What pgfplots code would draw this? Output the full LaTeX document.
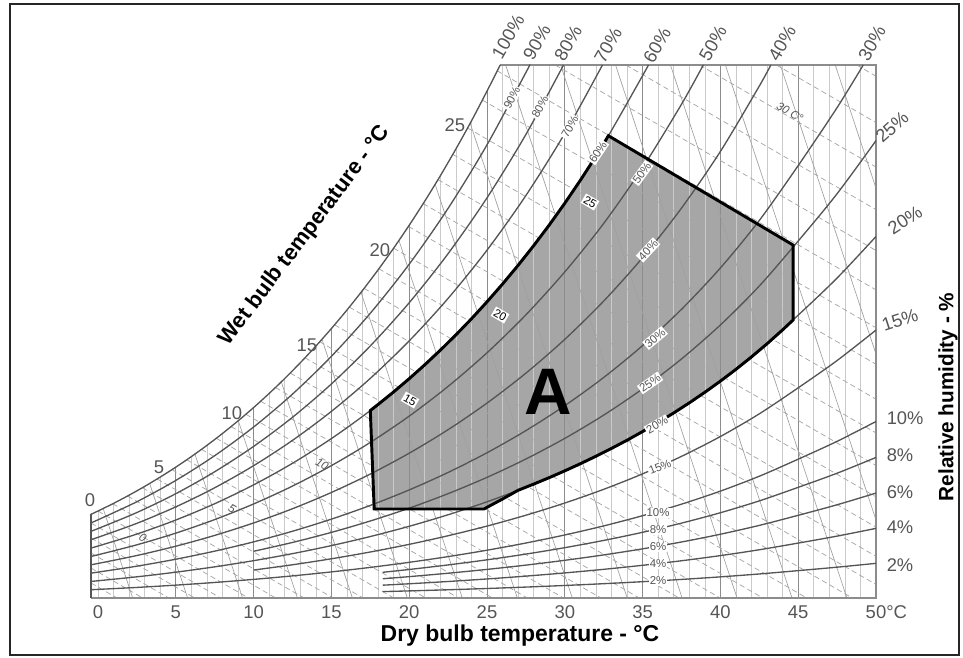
\documentclass[border=0pt]{standalone}
\usepackage{fontspec}
\setmainfont{Liberation Sans}
\usepackage{pgfplots}
\pgfplotsset{compat=1.18}
\definecolor{rhc}{HTML}{555555}
\definecolor{gridl}{HTML}{CACACA}
\definecolor{gridd}{HTML}{8C8C8C}
\definecolor{wbc}{HTML}{A6A6A6}
\definecolor{vc}{HTML}{A0A0A0}
\definecolor{zone}{HTML}{A6A6A6}
\definecolor{lab}{HTML}{555555}
\newcommand{\fs}[1]{\fontsize{#1}{#1}\selectfont}
\begin{document}
\begin{tikzpicture}
\begin{axis}[
  scale only axis, width=588.75bp, height=399.75bp,
  xmin=-0.45, xmax=50, ymin=0, ymax=533,
  axis line style={draw=none}, tick style={draw=none},
  ytick=\empty, xtick={0,5,...,50},
  xticklabels={0,5,10,15,20,25,30,35,40,45,{50\rlap{°C}}},
  xticklabel style={font=\fs{13.9}, text=lab, yshift=-2.2bp},
  clip=false,
]
% zone A fill
\addplot[draw=none, fill=zone] coordinates {(17.75,89)(24.8,89)(26,99)(27,107.73)(28,113.9)(29,120.37)(30,127.17)(31,134.29)(32,141.73)(33,149.58)(34,157.79)(35,166.45)(36,175.52)(37,185.08)(38,195.13)(39,205.72)(40,216.87)(41,228.66)(42,241.13)(43,254.27)(44,268.17)(44.67,277.97)(44.67,353)(32.8,462.27)(32.5,454.37)(32,441.78)(31,417.72)(30,394.8)(29,373.0)(28,352.34)(27,332.70)(26,313.98)(25,296.18)(24,279.19)(23,263.13)(22,247.80)(21,233.21)(20,219.31)(19,206.10)(18,193.53)(17.5,187.48)} -- cycle;
% light vertical dry-bulb lines
\addplot[gridl, line width=0.45bp, unbounded coords=jump] coordinates {
(0,0)(0,86.99)(0,nan)(1,0)(1,94.64)(1,nan)(2,0)(2,102.85)(2,nan)(3,0)(3,111.61)(3,nan)(4,0)(4,120.95)(4,nan)
(6,0)(6,141.42)(6,nan)(7,0)(7,152.62)(7,nan)(8,0)(8,164.51)(8,nan)(9,0)(9,177.11)(9,nan)
(11,0)(11,204.57)(11,nan)(12,0)(12,219.48)(12,nan)(13,0)(13,235.25)(13,nan)(14,0)(14,251.89)(14,nan)
(16,0)(16,288.0)(16,nan)(17,0)(17,307.56)(17,nan)(18,0)(18,328.16)(18,nan)(19,0)(19,349.86)(19,nan)
(21,0)(21,396.85)(21,nan)(22,0)(22,422.23)(22,nan)(23,0)(23,449.0)(23,nan)(24,0)(24,477.07)(24,nan)
(26,0)(26,533)(26,nan)(27,0)(27,533)(27,nan)(28,0)(28,533)(28,nan)(29,0)(29,533)(29,nan)
(31,0)(31,533)(31,nan)(32,0)(32,533)(32,nan)(33,0)(33,533)(33,nan)(34,0)(34,533)(34,nan)
(36,0)(36,533)(36,nan)(37,0)(37,533)(37,nan)(38,0)(38,533)(38,nan)(39,0)(39,533)(39,nan)
(41,0)(41,533)(41,nan)(42,0)(42,533)(42,nan)(43,0)(43,533)(43,nan)(44,0)(44,533)(44,nan)
(46,0)(46,533)(46,nan)(47,0)(47,533)(47,nan)(48,0)(48,533)(48,nan)(49,0)(49,533)};
% darker 5-degree lines
\addplot[gridd, line width=0.7bp, unbounded coords=jump] coordinates {
(5,0)(5,130.86)(5,nan)(10,0)(10,190.43)(10,nan)(15,0)(15,269.49)(15,nan)(20,0)(20,372.74)(20,nan)
(25,0)(25,506.89)(25,nan)(30,0)(30,533)(30,nan)(35,0)(35,533)(35,nan)(40,0)(40,533)(40,nan)(45,0)(45,533)};
% wet bulb dashed lines
\addplot[wbc, line width=0.55bp, dash pattern=on 4bp off 2.5bp, unbounded coords=jump] coordinates {
(-0.45,15)(1.22,0)(0,nan)(-0.45,30)(2.88,0)(0,nan)(-0.45,45)(4.55,0)(0,nan)(-0.45,60)(6.22,0)(0,nan)(-0.45,75)(7.88,0)(0,nan)
(0,86.99)(9.67,0)(0,nan)(0.95,94.26)(11.42,0)(0,nan)(1.9,102.03)(13.24,0)(0,nan)(2.85,110.30)(15.11,0)(0,nan)
(3.8,119.08)(17.03,0)(0,nan)(4.75,128.38)(19.01,0)(0,nan)(5.7,138.25)(21.06,0)(0,nan)(6.65,148.70)(23.17,0)(0,nan)
(7.6,159.75)(25.35,0)(0,nan)(8.55,171.44)(27.60,0)(0,nan)(9.5,183.77)(29.92,0)(0,nan)(10.45,196.79)(32.32,0)(0,nan)
(11.4,210.53)(34.79,0)(0,nan)(12.35,225.0)(37.35,0)(0,nan)(13.3,240.24)(39.99,0)(0,nan)(14.25,256.29)(42.73,0)(0,nan)
(15.2,273.19)(45.55,0)(0,nan)(16.15,290.93)(48.48,0)(0,nan)(17.1,309.62)(50,13.52)(0,nan)(18.05,329.25)(50,41.70)(0,nan)
(19.0,349.86)(50,70.86)(0,nan)(19.95,371.60)(50,101.15)(0,nan)(20.9,394.44)(50,132.54)(0,nan)(21.85,418.42)(50,165.07)(0,nan)
(22.8,443.65)(50,198.85)(0,nan)(23.75,470.05)(50,233.8)(0,nan)(24.7,497.94)(50,270.24)(0,nan)(25.65,527.24)(50,308.09)(0,nan)
(29.38,533)(50,347.46)(0,nan)(33.93,533)(50,388.38)(0,nan)(38.66,533)(50,430.96)(0,nan)(43.6,533)(50,475.42)(0,nan)(48.76,533)(50,521.8)};
% steep specific volume lines
\addplot[vc, line width=0.5bp, unbounded coords=jump] coordinates {
(2.23,0)(0.33,89.5)(0,nan)(5.76,0)(3.32,114.6)(0,nan)(9.29,0)(6.22,144.3)(0,nan)(12.82,0)(9.01,177.5)(0,nan)
(16.35,0)(11.78,216.2)(0,nan)(19.88,0)(14.39,258.9)(0,nan)(23.41,0)(16.9,305.8)(0,nan)(26.95,0)(19.34,357.6)(0,nan)
(30.48,0)(21.66,414)(0,nan)(34.01,0)(23.92,474.8)(0,nan)(37.54,0)(26.2,533)(0,nan)(41.07,0)(29.73,533)(0,nan)
(44.6,0)(33.26,533)(0,nan)(48.13,0)(36.79,533)(0,nan)(50,78)(40.32,533)(0,nan)(50,243.9)(43.85,533)(0,nan)(50,409.8)(47.38,533)};
% frame of the chart
\addplot[gridd, line width=0.8bp] coordinates {(-0.45,0)(50,0)(50,533)(25.85,533)};
\addplot[rhc, line width=0.9bp] coordinates {(-0.45,0)(-0.45,83.67)};
% relative humidity curves
\addplot[rhc, line width=1bp, smooth] coordinates {(-0.45,83.67)(0,86.99)(1,94.64)(2,102.85)(3,111.61)(4,120.95)(5,130.86)(6,141.42)(7,152.62)(8,164.51)(9,177.11)(10,190.43)(11,204.57)(12,219.48)(13,235.25)(14,251.89)(15,269.49)(16,288.0)(17,307.56)(18,328.16)(19,349.86)(20,372.74)(21,396.85)(22,422.23)(23,449.0)(24,477.07)(25,506.89)(25.85,533)};
\addplot[rhc, line width=1bp, smooth] coordinates {(-0.45,75.22)(0,78.20)(2.5,96.30)(5,117.57)(7.5,142.33)(10,170.97)(12.5,203.90)(15,241.68)(17.5,284.76)(20,333.81)(22.5,389.65)(25,453.16)(27.5,525.5)(27.75,533)};
\addplot[rhc, line width=1bp, smooth] coordinates {(-0.45,66.79)(0,69.43)(2.5,85.49)(5,104.32)(7.5,126.26)(10,151.58)(12.5,180.70)(15,214.06)(17.5,252.07)(20,295.27)(22.5,344.38)(25,400.14)(27.5,463.53)(29.92,533)};
\addplot[rhc, line width=1bp, smooth] coordinates {(-0.45,58.38)(0,60.68)(2.5,74.69)(5,91.13)(7.5,110.24)(10,132.31)(12.5,157.64)(15,186.64)(17.5,219.64)(20,257.11)(22.5,299.63)(25,347.82)(27.5,402.50)(30,464.65)(32.42,533)};
\addplot[rhc, line width=1bp, smooth] coordinates {(-0.45,49.98)(0,51.96)(2.5,63.94)(5,77.98)(7.5,94.29)(10,113.12)(12.5,134.72)(15,159.42)(17.5,187.48)(20,219.31)(22.5,255.37)(25,296.18)(27.5,342.39)(30,394.80)(32.5,454.37)(35,522.38)(35.37,533)};
\addplot[rhc, line width=1bp, smooth] coordinates {(-0.45,41.61)(0,43.25)(2.5,53.20)(5,64.87)(7.5,78.42)(10,94.04)(12.5,111.94)(15,132.38)(17.5,155.59)(20,181.88)(22.5,211.62)(25,245.21)(27.5,283.19)(30,326.16)(32.5,374.60)(35,430.36)(37.5,493.75)(38.9,533)};
\addplot[rhc, line width=1bp, smooth] coordinates {(-0.45,33.25)(0,34.56)(2.5,42.50)(5,51.80)(7.5,62.60)(10,75.04)(12.5,89.28)(15,105.53)(17.5,123.96)(20,144.80)(22.5,168.35)(25,194.91)(27.5,224.86)(30,258.69)(32.5,296.96)(35,340.41)(37.5,389.91)(40,446.58)(42.5,511.95)(43.24,533)};
\addplot[rhc, line width=1bp, smooth] coordinates {(-0.45,24.91)(0,25.89)(2.5,31.83)(5,38.79)(7.5,46.86)(10,56.14)(12.5,66.77)(15,78.88)(17.5,92.59)(20,108.09)(22.5,125.56)(25,145.24)(27.5,167.40)(30,192.37)(32.5,220.55)(35,252.46)(37.5,288.70)(40,330.06)(42.5,377.56)(45,432.45)(47.5,490.41)(49.18,533)};
\addplot[rhc, line width=1bp, smooth] coordinates {(10,46.73)(12.5,55.56)(15,65.62)(17.5,77.01)(20,89.86)(22.5,104.35)(25,120.65)(27.5,138.99)(30,159.63)(32.5,182.91)(35,209.22)(37.5,239.07)(40,273.06)(42.5,312.03)(45,357.0)(47.5,404.30)(50,457.38)};
\addplot[rhc, line width=1bp, smooth] coordinates {(-0.45,16.59)(0,17.24)(2.5,21.19)(5,25.82)(7.5,31.17)(10,37.33)(12.5,44.38)(15,52.40)(17.5,61.48)(20,71.71)(22.5,83.25)(25,96.21)(27.5,110.78)(30,127.17)(32.5,145.62)(35,166.45)(37.5,190.05)(40,216.87)(42.5,247.58)(45,282.90)(47.5,320.01)(50,361.52)};
\addplot[rhc, line width=1bp, smooth] coordinates {(10,27.96)(12.5,33.24)(15,39.23)(17.5,46.02)(20,53.66)(22.5,62.27)(25,71.93)(27.5,82.79)(30,94.98)(32.5,108.69)(35,124.16)(37.5,141.65)(40,161.50)(42.5,184.18)(45,210.20)(47.5,237.49)(50,267.93)};
\addplot[rhc, line width=1bp, smooth] coordinates {(-0.45,8.29)(0,8.61)(2.5,10.58)(5,12.88)(7.5,15.55)(10,18.63)(12.5,22.12)(15,26.11)(17.5,30.61)(20,35.69)(22.5,41.40)(25,47.80)(27.5,54.99)(30,63.05)(32.5,72.11)(35,82.32)(37.5,93.84)(40,106.90)(42.5,121.78)(45,138.84)(47.5,156.68)(50,176.52)};
\addplot[rhc, line width=1bp, smooth] coordinates {(18.3,25.71)(20,28.53)(22.5,33.08)(25,38.19)(27.5,43.92)(30,50.35)(32.5,57.57)(35,65.71)(37.5,74.88)(40,85.28)(42.5,97.12)(45,110.67)(47.5,124.81)(50,140.57)};
\addplot[rhc, line width=1bp, smooth] coordinates {(18.3,19.26)(20,21.37)(22.5,24.78)(25,28.61)(27.5,32.89)(30,37.71)(32.5,43.10)(35,49.17)(37.5,56.02)(40,63.78)(42.5,72.61)(45,82.70)(47.5,93.24)(50,104.94)};
\addplot[rhc, line width=1bp, smooth] coordinates {(18.3,12.83)(20,14.24)(22.5,16.51)(25,19.05)(27.5,21.90)(30,25.09)(32.5,28.68)(35,32.71)(37.5,37.26)(40,42.40)(42.5,48.25)(45,54.93)(47.5,61.90)(50,69.64)};
\addplot[rhc, line width=1bp, smooth] coordinates {(18.3,6.41)(20,7.11)(22.5,8.24)(25,9.51)(27.5,10.94)(30,12.53)(32.5,14.32)(35,16.33)(37.5,18.59)(40,21.14)(42.5,24.05)(45,27.37)(47.5,30.83)(50,34.66)};
% zone A border
\addplot[black, line width=2.2bp, line join=miter] coordinates {(17.75,89)(24.8,89)(26,99)(27,107.73)(28,113.9)(29,120.37)(30,127.17)(31,134.29)(32,141.73)(33,149.58)(34,157.79)(35,166.45)(36,175.52)(37,185.08)(38,195.13)(39,205.72)(40,216.87)(41,228.66)(42,241.13)(43,254.27)(44,268.17)(44.67,277.97)(44.67,353)(32.8,462.27)(32.5,454.37)(32,441.78)(31,417.72)(30,394.8)(29,373.0)(28,352.34)(27,332.70)(26,313.98)(25,296.18)(24,279.19)(23,263.13)(22,247.80)(21,233.21)(20,219.31)(19,206.10)(18,193.53)(17.5,187.48)} -- cycle;
\node[font=\bfseries\fs{49.5}] at (axis cs:28.92,206) {A};
% labels on curves
\tikzset{bx/.style={fill=white, inner sep=0.8bp, text=lab, font=\fs{8.6}}}
\node[bx, rotate=62] at (axis cs:26.6,500) {90\%};
\node[bx, rotate=62] at (axis cs:28.41,491) {80\%};
\node[bx, rotate=60] at (axis cs:30.33,471) {70\%};
\node[bx, rotate=56] at (axis cs:32.13,446) {60\%};
\node[bx, rotate=54] at (axis cs:34.96,425) {50\%};
\node[bx, rotate=47] at (axis cs:35.35,348) {40\%};
\node[bx, rotate=40] at (axis cs:35.8,260) {30\%};
\node[bx, rotate=35] at (axis cs:35.48,215) {25\%};
\node[bx, rotate=30] at (axis cs:35.93,173) {20\%};
\node[bx, rotate=22] at (axis cs:36.12,131) {15\%};
\node[bx] at (axis cs:35.99,85) {10\%};
\node[bx] at (axis cs:35.99,68) {8\%};
\node[bx] at (axis cs:35.99,51) {6\%};
\node[bx] at (axis cs:35.99,34) {4\%};
\node[bx] at (axis cs:35.99,17) {2\%};
% wet bulb line labels inside
\node[text=lab, font=\itshape\fs{8.6}, rotate=-30] at (axis cs:2.89,60) {0};
\node[text=lab, font=\itshape\fs{8.6}, rotate=-30] at (axis cs:8.61,89) {5};
\node[text=lab, font=\itshape\fs{8.6}, rotate=-30] at (axis cs:14.4,134) {10};
\node[fill=white, inner sep=1bp, font=\fs{8.6}, rotate=-30] at (axis cs:20.05,198) {15};
\node[fill=white, inner sep=1bp, font=\fs{8.6}, rotate=-30] at (axis cs:25.84,283) {20};
\node[fill=white, inner sep=1bp, font=\fs{8.6}, rotate=-30] at (axis cs:31.62,396) {25};
\node[text=lab, font=\itshape\fs{8.6}, rotate=-30] at (axis cs:44.47,486) {30 C°};
% wet bulb labels at saturation curve
\tikzset{wl/.style={text=lab, font=\fs{13.9}}}
\node[wl] at (axis cs:-0.514,98) {0};
\node[wl] at (axis cs:3.92,131) {5};
\node[wl] at (axis cs:8.61,185) {10};
\node[wl] at (axis cs:13.43,253) {15};
\node[wl] at (axis cs:18.12,348) {20};
\node[wl] at (axis cs:22.94,473) {25};
% RH labels top and right
\tikzset{rl/.style={text=lab, font=\fs{13.8}}}
\node[rl, rotate=60] at (axis cs:26.35,561) {100\%};
\node[rl, rotate=60] at (axis cs:28.21,556) {90\%};
\node[rl, rotate=60] at (axis cs:30.21,555) {80\%};
\node[rl, rotate=60] at (axis cs:32.78,553) {70\%};
\node[rl, rotate=60] at (axis cs:35.93,553) {60\%};
\node[rl, rotate=60] at (axis cs:39.52,555) {50\%};
\node[rl, rotate=60] at (axis cs:43.96,555) {40\%};
\node[rl, rotate=60] at (axis cs:49.74,555) {30\%};
\node[rl, rotate=42] at (axis cs:51.03,471) {25\%};
\node[rl, rotate=33] at (axis cs:51.86,378) {20\%};
\node[rl, rotate=18] at (axis cs:51.54,278) {15\%};
\node[rl, anchor=west] at (axis cs:50.39,180) {10\%};
\node[rl, anchor=west] at (axis cs:50.39,143) {8\%};
\node[rl, anchor=west] at (axis cs:50.39,106) {6\%};
\node[rl, anchor=west] at (axis cs:50.39,71) {4\%};
\node[rl, anchor=west] at (axis cs:50.39,33) {2\%};
% titles
\node[font=\bfseries\fs{17.3}] at (axis cs:27.12,-38) {Dry bulb temperature - °C};
\node[font=\bfseries\fs{15.6}, rotate=90] at (axis cs:54.62,201) {Relative humidity - \%};
\node[font=\bfseries\fs{16.5}, rotate=53] at (axis cs:13.3,362) {Wet bulb temperature - °C};
% outer frame and page extent
\draw[line width=1.1bp, black!85] (axis cs:-5.656,-57) rectangle (axis cs:55.334,594);
\path (axis cs:-6.298,-59) (axis cs:55.591,598);
\end{axis}
\end{tikzpicture}
\end{document}
